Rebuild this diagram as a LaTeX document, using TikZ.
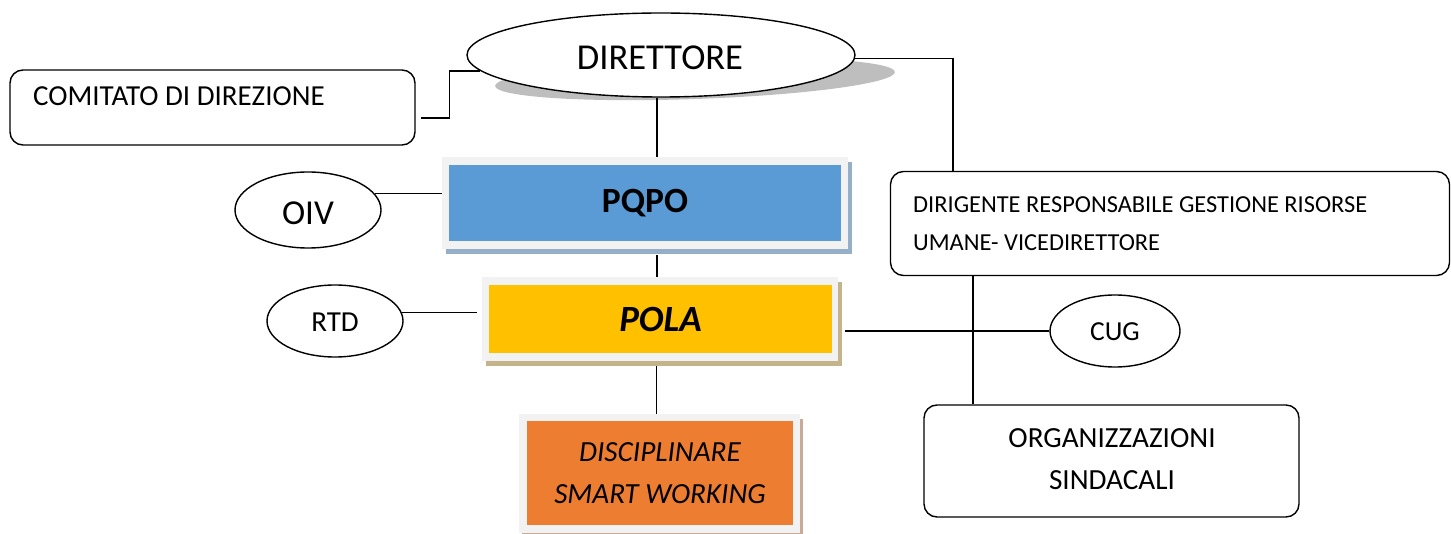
\documentclass[tikz,border=0pt]{standalone}
\usepackage{fontspec}
\setmainfont{Carlito}
\usetikzlibrary{shapes.geometric,shadows,calc}
\definecolor{pqblue}{HTML}{5B9BD5}
\definecolor{polayel}{HTML}{FFC000}
\definecolor{discor}{HTML}{ED7D31}
\definecolor{framegray}{HTML}{F2F2F2}
\definecolor{pqshadow}{RGB}{150,175,200}
\definecolor{polashadow}{RGB}{196,180,140}
\definecolor{discshadow}{RGB}{200,170,150}
\definecolor{ovalshadow}{RGB}{190,190,190}
\begin{document}
\begin{tikzpicture}[x=1pt,y=-1pt,
  conn/.style={line width=1.4pt},
  rbox/.style={draw,line width=1.4pt,rounded corners=13pt,inner sep=0pt},
  oval/.style={ellipse,draw,line width=1.4pt,fill=white,inner sep=0pt},
  frame/.style={fill=framegray,inner sep=0pt},
  core/.style={inner sep=0pt,align=center}]
\useasboundingbox (0,0) rectangle (1451,534);

% shadow of DIRETTORE
\fill[ovalshadow,rotate around={2:(695,79)}] (695,79) ellipse [x radius=200, y radius=20];

% DIRETTORE
\node[oval,minimum width=388pt,minimum height=84pt] (dir) at (661,55) {};
\node[font=\fontsize{36.5}{42}\selectfont] (dirtxt) at (660,58) {DIRETTORE};

% COMITATO
\node[rbox,minimum width=405pt,minimum height=75pt] (com) at (212.5,107.5) {};
\node[anchor=base west,inner sep=0pt,font=\fontsize{29}{34}\selectfont] (comtxt) at (33,106) {COMITATO DI DIREZIONE};

% PQPO
\node[frame,minimum width=406pt,minimum height=92pt,
  drop shadow={shadow xshift=4pt,shadow yshift=-5pt,fill=pqshadow,opacity=1}] (pqpof) at (645,203) {};
\node[core,fill=pqblue,minimum width=392pt,minimum height=76pt,font=\fontsize{35.5}{42}\selectfont\bfseries] (pqpo) at (645,203) {PQPO};

% POLA
\node[frame,minimum width=356pt,minimum height=84pt,
  drop shadow={shadow xshift=4pt,shadow yshift=-5pt,fill=polashadow,opacity=1}] (polaf) at (660,319) {};
\node[core,fill=polayel,minimum width=343pt,minimum height=68pt,font=\fontsize{37}{42}\selectfont\bfseries\itshape] (pola) at (660.5,319) {POLA};

% DISCIPLINARE
\node[frame,minimum width=281pt,minimum height=119pt,
  drop shadow={shadow xshift=3pt,shadow yshift=-5pt,fill=discshadow,opacity=1}] (discf) at (659.5,473.5) {};
\node[core,fill=discor,minimum width=266pt,minimum height=104pt,font=\fontsize{29.2}{42}\selectfont\itshape] (disc) at (660,473) {DISCIPLINARE\\SMART WORKING};

% OIV, RTD, CUG
\node[oval,minimum width=146pt,minimum height=76pt] (oiv) at (308,210) {};
\node[font=\fontsize{35}{40}\selectfont] (oivtxt) at (308,213) {OIV};
\node[oval,minimum width=136pt,minimum height=72pt] (rtd) at (335,321) {};
\node[font=\fontsize{29}{34}\selectfont] (rtdtxt) at (335,322) {RTD};
\node[oval,minimum width=130pt,minimum height=72pt] (cug) at (1115,331) {};
\node[font=\fontsize{27.5}{32}\selectfont] (cugtxt) at (1115,332) {CUG};

% DIRIGENTE
\node[rbox,minimum width=559pt,minimum height=104pt] (dirig) at (1170,223.5) {};
\node[anchor=base west,inner sep=0pt,align=left,font=\fontsize{24.4}{38}\selectfont] (dirigtxt) at (913,251) {DIRIGENTE RESPONSABILE GESTIONE RISORSE\\UMANE- VICEDIRETTORE};

% ORGANIZZAZIONI
\node[rbox,minimum width=375pt,minimum height=112pt] (org) at (1111.5,461) {};
\node[anchor=base,inner sep=0pt,align=center,font=\fontsize{29.2}{42}\selectfont] (orgtxt) at (1112,489) {ORGANIZZAZIONI\\SINDACALI};

% connectors
\draw[conn] ([xshift=5pt,yshift=-10.5pt]com.east) -- ++(29,0) |- (dir.185);
\draw[conn] ([xshift=-4pt]dir.south) -- ([xshift=-4pt]dir.south |- pqpof.north);
\draw[conn] (dir.-1) -| ([xshift=63pt]dirig.north west);
\draw[conn] (oiv.14) -- (oiv.14 -| pqpof.west);
\draw[conn] ([xshift=-3pt]polaf.north) -- ([xshift=-3pt,yshift=-6pt]polaf.north |- pqpof.south);
\draw[conn] (rtd.7) -- ([xshift=-5pt]rtd.7 -| polaf.west);
\draw[conn] (cug.west) -- ([xshift=7pt]cug.west -| polaf.east);
\draw[conn] ([xshift=-3pt]discf.north) -- ([xshift=-3pt,yshift=-5pt]discf.north |- polaf.south);
\draw[conn] ([xshift=83pt]dirig.south west) -- ([xshift=83pt]dirig.south west |- org.north);
\end{tikzpicture}
\end{document}
